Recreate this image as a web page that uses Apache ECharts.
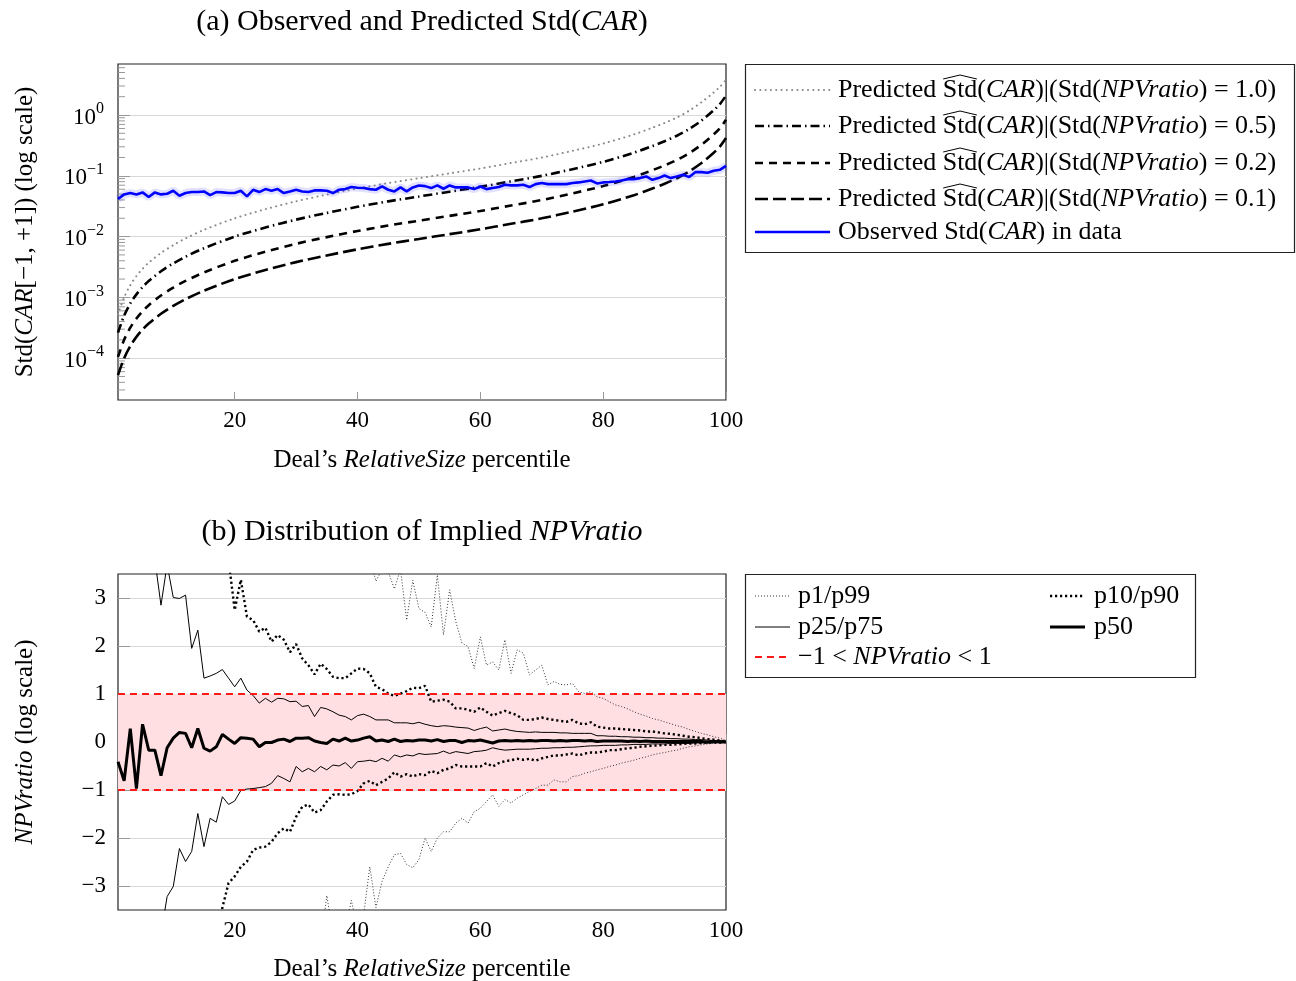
<!DOCTYPE html>
<html><head><meta charset="utf-8">
<script src="https://cdn.jsdelivr.net/npm/echarts@6.0.0/dist/echarts.min.js"></script>
<style>html,body{margin:0;padding:0;background:#fff}#c{width:1296px;height:981px}</style>
</head><body><div id="c"></div>
<script>
// ---------- DATA ----------
const pct = Array.from({length: 100}, (_, i) => i + 1);
const predX = [1,2,3,4,5,6,8,10,12,15,20,25,30,35,40,45,50,55,60,65,70,75,80,85,88,90,92,94,96,98,99,100];
const pred10 = [5.25e-4,1.0e-3,1.585e-3,2.24e-3,2.95e-3,3.72e-3,5.37e-3,7.24e-3,9.33e-3,0.01288,0.01995,0.02818,0.038,0.049,0.0617,0.0759,0.0912,0.1096,0.1318,0.1622,0.1995,0.257,0.339,0.479,0.617,0.741,0.912,1.175,1.62,2.35,2.9,3.8];
const pred05 = [2.63e-4,5.0e-4,7.93e-4,1.12e-3,1.475e-3,1.86e-3,2.685e-3,3.62e-3,4.665e-3,6.44e-3,9.975e-3,0.01409,0.019,0.0245,0.03085,0.03795,0.0456,0.0548,0.0659,0.0811,0.09975,0.1285,0.1695,0.2395,0.3085,0.3705,0.456,0.5875,0.81,1.2,1.51,2.085];
const pred02 = [1.05e-4,2.0e-4,3.17e-4,4.48e-4,5.9e-4,7.44e-4,1.074e-3,1.448e-3,1.866e-3,2.576e-3,3.99e-3,5.636e-3,7.6e-3,9.8e-3,0.01234,0.01518,0.01824,0.02192,0.02636,0.03244,0.0399,0.0514,0.0678,0.0958,0.1234,0.1482,0.1824,0.235,0.324,0.48,0.604,0.834];
const pred01 = [5.25e-5,1.0e-4,1.585e-4,2.24e-4,2.95e-4,3.72e-4,5.37e-4,7.24e-4,9.33e-4,1.288e-3,1.995e-3,2.818e-3,3.8e-3,4.9e-3,6.17e-3,7.59e-3,9.12e-3,0.01096,0.01318,0.01622,0.01995,0.0257,0.0339,0.0479,0.0617,0.0741,0.0912,0.1175,0.162,0.24,0.302,0.417];
const observed = [0.0415,0.0494,0.0520,0.0494,0.0533,0.0447,0.0533,0.0494,0.0507,0.0568,
  0.0470,0.0520,0.0540,0.0540,0.0553,0.0482,0.0540,0.0533,0.0520,0.0520,
  0.0568,0.0458,0.0589,0.0540,0.0604,0.0568,0.0604,0.0520,0.0553,0.0589,
  0.0553,0.0540,0.0575,0.0575,0.0568,0.0520,0.0589,0.0604,0.0652,0.0635,
  0.0628,0.0604,0.0589,0.0668,0.0589,0.0553,0.0644,0.0553,0.0644,0.0693,
  0.0676,0.0628,0.0695,0.0612,0.0695,0.0644,0.0644,0.0644,0.0604,0.0668,
  0.0604,0.0628,0.0652,0.0711,0.0695,0.0695,0.0711,0.0652,0.0729,0.0759,
  0.0729,0.0729,0.0729,0.0729,0.0759,0.0778,0.0807,0.0837,0.0748,0.0778,
  0.0790,0.0807,0.0837,0.0881,0.0881,0.0916,0.0975,0.0859,0.0916,0.1012,
  0.0916,0.0975,0.1038,0.0951,0.1148,0.1148,0.1119,0.1208,0.1253,0.146];
const topYTicks = [1e-4, 1e-3, 1e-2, 1e-1, 1];
const xTicks = [20, 40, 60, 80, 100];
const botYTicks = [-3, -2, -1, 0, 1, 2, 3];

const p50 = [-0.41,-0.81,0.28,-0.97,0.37,-0.17,-0.17,-0.70,-0.12,0.08,
  0.20,0.18,-0.12,0.28,-0.13,-0.19,-0.10,0.16,0.06,-0.03,
  0.09,0.08,0.06,-0.10,-0.01,-0.01,0.04,0.06,0.01,0.08,
  0.08,0.09,0.02,-0.01,-0.03,0.06,0.02,0.08,0.02,0.04,
  0.08,0.11,0.02,0.04,0.01,0.06,0.01,0.03,0.02,0.04,
  0.04,0.02,0.05,0.01,0.03,0.03,-0.01,0.03,0.02,0.04,
  0.01,-0.02,0.02,0.03,0.02,0.03,0.02,0.03,0.02,0.03,
  0.03,0.02,0.03,0.02,0.03,0.03,0.02,0.03,0.01,0.02,
  0.02,0.02,0.02,0.01,0.02,0.01,0.02,0.01,0.01,0.01,
  0.01,0.01,0.01,0.01,0.01,0.01,0.0,0.01,0.0,0.0];
const p75 = [5.0,5.0,5.0,5.0,5.0,4.6,3.8,2.85,3.7,3.01,
  2.99,3.06,1.95,2.33,1.33,1.375,1.43,1.51,1.33,1.15,
  1.33,1.08,0.97,0.81,0.91,0.83,0.91,0.90,0.84,0.85,
  0.74,0.76,0.53,0.72,0.69,0.63,0.56,0.53,0.46,0.55,
  0.58,0.53,0.46,0.46,0.46,0.40,0.40,0.40,0.38,0.41,
  0.37,0.34,0.32,0.34,0.33,0.31,0.30,0.29,0.24,0.28,
  0.31,0.23,0.25,0.27,0.24,0.22,0.21,0.20,0.21,0.20,
  0.20,0.20,0.19,0.19,0.18,0.18,0.18,0.18,0.13,0.13,
  0.12,0.12,0.11,0.11,0.10,0.10,0.09,0.09,0.08,0.08,
  0.07,0.07,0.06,0.06,0.05,0.05,0.04,0.03,0.03,0.02];
const p25 = [-5.0,-5.0,-5.0,-5.0,-5.0,-5.0,-4.6,-4.0,-3.22,-3.01,
  -2.22,-2.49,-2.28,-1.49,-2.18,-1.59,-1.67,-1.14,-1.30,-1.23,
  -1.01,-0.98,-0.97,-0.95,-0.93,-0.86,-0.70,-0.76,-0.83,-0.51,
  -0.62,-0.55,-0.62,-0.51,-0.58,-0.48,-0.50,-0.43,-0.55,-0.41,
  -0.40,-0.38,-0.41,-0.34,-0.40,-0.27,-0.31,-0.27,-0.29,-0.24,
  -0.26,-0.25,-0.24,-0.19,-0.24,-0.20,-0.22,-0.24,-0.20,-0.19,
  -0.17,-0.12,-0.15,-0.17,-0.16,-0.15,-0.15,-0.15,-0.14,-0.13,
  -0.13,-0.12,-0.12,-0.11,-0.11,-0.10,-0.09,-0.08,-0.08,-0.07,
  -0.07,-0.07,-0.06,-0.06,-0.05,-0.05,-0.05,-0.04,-0.04,-0.04,
  -0.03,-0.03,-0.03,-0.03,-0.02,-0.02,-0.02,-0.01,-0.01,0.0];
const p90 = [6,6,6,6,6,6,6,6,6,6,
  5.5,5.5,5.0,5.0,4.8,4.6,4.4,4.2,3.8,2.75,
  3.38,2.61,2.54,2.30,2.38,2.09,2.23,2.13,1.87,2.04,
  1.74,1.60,1.41,1.63,1.52,1.36,1.33,1.33,1.43,1.53,
  1.52,1.43,1.15,1.10,1.01,0.96,1.01,1.06,1.13,1.12,
  1.17,0.84,0.86,0.88,0.84,0.70,0.70,0.67,0.63,0.72,
  0.63,0.55,0.60,0.65,0.60,0.56,0.46,0.46,0.48,0.51,
  0.48,0.46,0.44,0.42,0.46,0.39,0.37,0.41,0.32,0.30,
  0.28,0.28,0.27,0.26,0.25,0.24,0.22,0.22,0.20,0.18,
  0.17,0.15,0.13,0.11,0.10,0.08,0.06,0.05,0.03,0.01];
const p10 = [-6,-6,-6,-6,-6,-6,-6,-6,-6,-6,
  -5.5,-5.5,-5.0,-5.0,-4.8,-4.6,-4.2,-3.45,-2.94,-2.80,
  -2.60,-2.49,-2.25,-2.20,-2.18,-2.08,-1.90,-1.80,-1.87,-1.56,
  -1.35,-1.30,-1.47,-1.42,-1.24,-1.10,-1.09,-1.10,-1.09,-1.02,
  -0.86,-0.81,-0.90,-0.83,-0.76,-0.63,-0.72,-0.67,-0.72,-0.67,
  -0.69,-0.60,-0.65,-0.58,-0.55,-0.48,-0.51,-0.51,-0.51,-0.51,
  -0.44,-0.51,-0.44,-0.40,-0.38,-0.35,-0.37,-0.35,-0.39,-0.34,
  -0.31,-0.28,-0.28,-0.26,-0.24,-0.28,-0.24,-0.22,-0.22,-0.20,
  -0.17,-0.17,-0.15,-0.13,-0.12,-0.10,-0.09,-0.08,-0.07,-0.06,
  -0.06,-0.05,-0.04,-0.03,-0.03,-0.02,-0.01,-0.01,-0.01,0.0];
const p99 = [6,6,6,6,6,6,6,6,6,6,
  6,6,6,6,6,6,6,6,6,6,
  6,6,6,6,6,6,6,6,6,6,
  5.5,5.4,5.2,5.0,4.9,4.8,4.6,4.5,4.3,4.1,
  3.9,3.8,3.35,3.6,3.55,3.19,3.6,2.54,3.37,2.78,
  2.70,2.40,3.48,2.23,3.17,2.51,2.06,1.99,1.53,2.19,
  1.60,1.67,1.50,2.13,1.43,1.92,1.85,1.40,1.50,1.60,
  1.19,1.26,1.20,1.19,1.22,1.05,1.01,1.05,0.94,0.91,
  0.84,0.77,0.74,0.69,0.63,0.58,0.54,0.49,0.46,0.42,
  0.38,0.34,0.31,0.26,0.22,0.18,0.15,0.11,0.08,0.03];
const p01 = [-6,-6,-6,-6,-6,-6,-6,-6,-6,-6,
  -6,-6,-6,-6,-6,-6,-6,-6,-6,-6,
  -6,-6,-6,-6,-6,-6,-6,-6,-6,-6,
  -5.5,-5.0,-4.6,-4.2,-3.2,-4.0,-4.2,-3.9,-3.3,-3.9,
  -3.6,-2.6,-3.45,-2.9,-2.6,-2.35,-2.32,-2.55,-2.62,-2.45,
  -2.0,-2.28,-2.0,-1.87,-1.87,-1.69,-1.59,-1.69,-1.45,-1.38,
  -1.24,-1.10,-1.34,-1.20,-1.27,-1.17,-1.10,-1.03,-0.97,-0.90,
  -0.90,-0.79,-0.83,-0.83,-0.72,-0.70,-0.65,-0.62,-0.58,-0.55,
  -0.51,-0.48,-0.44,-0.41,-0.38,-0.34,-0.31,-0.27,-0.24,-0.22,
  -0.19,-0.17,-0.13,-0.10,-0.08,-0.06,-0.04,-0.03,-0.01,0.0];

// ---------- STYLE ----------
const F = '"Liberation Serif", "Times New Roman", serif';
const S = {
  pred10: {color: '#888', width: 2, type: [0.1, 5.2], cap: 'round'},
  pred05: {color: '#000', width: 2.6, type: [9, 4, 1.5, 4], cap: 'butt'},
  pred02: {color: '#000', width: 2.6, type: [8, 6], cap: 'butt'},
  pred01: {color: '#000', width: 2.6, type: [13, 5], cap: 'butt'},
  obs: {color: '#0000ff', width: 2.6, type: 'solid'},
  p1: {color: '#333', width: 1, type: [1, 2]},
  p10: {color: '#000', width: 2.4, type: [2.2, 2.8]},
  p25: {color: '#000', width: 1, type: 'solid'},
  p50: {color: '#000', width: 3, type: 'solid'},
  red: {color: '#ff1a1a', width: 1.8, type: [7, 5]}
};

const chart = echarts.init(document.getElementById('c'));
const pair = (xs, ys) => xs.map((x, i) => [x, ys[i]]);
const line = (name, xi, data, st, extra) => Object.assign({
  name, type: 'line', xAxisIndex: xi, yAxisIndex: xi, data, symbol: 'none', silent: true,
  animation: false, lineStyle: {color: st.color, width: st.width, type: st.type, cap: st.cap || 'butt'}
}, extra || {});

const minorVals = [];
for (let e = -5; e <= 0; e++) for (let m = 2; m <= 9; m++) {
  const v = m * Math.pow(10, e);
  if (v > 2.05e-5 && v < 6.9) minorVals.push([1, v]);
}

const supMap = e => (e < 0 ? '−' + (-e) : String(e));
const tickLbl = {fontFamily: F, fontSize: 23, color: '#000'};
const smoothOpt = {smooth: 0.3};

const option = {
  animation: false,
  backgroundColor: '#fff',
  grid: [
    {left: 118, top: 64, width: 608, height: 336, show: true, borderColor: '#222', borderWidth: 1.2, backgroundColor: 'transparent'},
    {left: 118, top: 574, width: 608, height: 336, show: true, borderColor: '#222', borderWidth: 1.2, backgroundColor: 'transparent'}
  ],
  xAxis: [0, 1].map(g => ({
    type: 'value', gridIndex: g, min: 1, max: 100,
    axisLine: {show: false},
    axisTick: {show: true, inside: true, length: 8, lineStyle: {color: '#999'}, customValues: xTicks},
    axisLabel: Object.assign({margin: 9, customValues: xTicks}, tickLbl),
    splitLine: {show: false}
  })),
  yAxis: [
    {type: 'log', logBase: 10, gridIndex: 0, min: 2.05e-5, max: 6.9,
     axisLine: {show: false},
     axisTick: {show: true, inside: true, length: 12, lineStyle: {color: '#999'}, customValues: topYTicks},
     splitLine: {show: true, lineStyle: {color: '#d9d9d9', width: 1}},
     axisLabel: {margin: 14, customValues: topYTicks,
       formatter: v => '{b|10}{s|' + supMap(Math.round(Math.log10(v))) + '}',
       rich: {b: {fontFamily: F, fontSize: 23, color: '#000', lineHeight: 28, verticalAlign: 'bottom'},
              s: {fontFamily: F, fontSize: 16, color: '#000', lineHeight: 14, verticalAlign: 'top'}}}
    },
    {type: 'value', gridIndex: 1, min: -3.5, max: 3.5,
     axisLine: {show: false},
     axisTick: {show: true, inside: true, length: 12, lineStyle: {color: '#999'}, customValues: botYTicks},
     splitLine: {show: true, lineStyle: {color: '#d9d9d9', width: 1}},
     axisLabel: Object.assign({margin: 12, customValues: botYTicks, formatter: v => String(v).replace('-', '−')}, tickLbl)
    }
  ],
  series: [
    {type: 'custom', xAxisIndex: 0, yAxisIndex: 0, data: minorVals, silent: true, animation: false,
     renderItem: (p, api) => {
       const pt = api.coord([api.value(0), api.value(1)]);
       return {type: 'line', shape: {x1: pt[0], y1: pt[1], x2: pt[0] + 7, y2: pt[1]}, style: {stroke: '#999', lineWidth: 1}};
     }},
    line('pred10', 0, pair(predX, pred10), S.pred10, smoothOpt),
    line('pred05', 0, pair(predX, pred05), S.pred05, smoothOpt),
    line('pred02', 0, pair(predX, pred02), S.pred02, smoothOpt),
    line('pred01', 0, pair(predX, pred01), S.pred01, smoothOpt),
    line('obsBand', 0, pair(pct, observed), {color: 'rgba(70,70,255,0.16)', width: 8, type: 'solid'}),
    line('observed', 0, pair(pct, observed), S.obs),
    line('band', 1, [], S.p25, {
      markArea: {silent: true, itemStyle: {color: '#ffdfe1'}, data: [[{yAxis: -1}, {yAxis: 1}]]},
      markLine: {silent: true, symbol: 'none', label: {show: false}, animation: false,
        lineStyle: {color: S.red.color, width: S.red.width, type: S.red.type}, data: [{yAxis: -1}, {yAxis: 1}]}
    }),
    line('p1', 1, pair(pct, p01), S.p1),
    line('p99', 1, pair(pct, p99), S.p1),
    line('p10', 1, pair(pct, p10), S.p10),
    line('p90', 1, pair(pct, p90), S.p10),
    line('p25', 1, pair(pct, p25), S.p25),
    line('p75', 1, pair(pct, p75), S.p25),
    line('p50', 1, pair(pct, p50), S.p50)
  ],
  graphic: []
};

// ---------- TEXT / LEGENDS ----------
const G = [];
const italic = size => ({fontFamily: F, fontSize: size, fontStyle: 'italic', fill: '#000'});
function text(x, y, str, size, opt) {
  opt = opt || {};
  G.push({type: 'text', x, y, rotation: opt.rot || 0, silent: true, z: 100,
    style: {text: str, fontFamily: F, fontSize: size, fill: '#000', align: opt.align || 'center', verticalAlign: 'middle',
      rich: {i: italic(size), n: {fontFamily: F, fontSize: size, fill: '#000'}}}});
}
text(422, 22, '(a) Observed and Predicted Std({i|CAR})', 30);
text(422, 532, '(b) Distribution of Implied {i|NPVratio}', 30);
text(422, 460, 'Deal’s {i|RelativeSize} percentile', 25);
text(422, 969, 'Deal’s {i|RelativeSize} percentile', 25);
text(25, 232, 'Std({i|CAR}[−1, +1]) (log scale)', 25, {rot: Math.PI / 2});
text(25, 742, '{i|NPVratio} (log scale)', 25, {rot: Math.PI / 2});

const ctx = document.createElement('canvas').getContext('2d');
const LF = 26;
ctx.font = LF + 'px "Liberation Serif"';
const wPred = ctx.measureText('Predicted ').width;
const wStd = ctx.measureText('Std').width;

function sample(x1, x2, y, st) {
  G.push({type: 'line', silent: true, z: 100, shape: {x1, y1: y, x2, y2: y},
    style: {stroke: st.color, lineWidth: st.width, lineDash: Array.isArray(st.type) ? st.type : null, lineCap: st.cap || 'butt'}});
}
// legend 1
G.push({type: 'rect', silent: true, z: 99, shape: {x: 745.5, y: 64.5, width: 549, height: 188}, style: {fill: '#fff', stroke: '#222', lineWidth: 1.2}});
const leg1 = [['pred10', '1.0'], ['pred05', '0.5'], ['pred02', '0.2'], ['pred01', '0.1']];
const rows1 = [90, 126, 163, 199, 232];
leg1.forEach((d, k) => {
  const y = rows1[k];
  sample(755, 830, y, S[d[0]]);
  text(838, y, 'Predicted Std({i|CAR})|(Std({i|NPVratio}) = ' + d[1] + ')', LF, {align: 'left'});
  const hx = 838 + wPred;
  G.push({type: 'polyline', silent: true, z: 100,
    shape: {points: [[hx + 0.5, y - 11], [hx + wStd / 2, y - 15], [hx + wStd - 0.5, y - 11]]},
    style: {stroke: '#000', lineWidth: 1, fill: null}});
});
sample(755, 830, rows1[4], S.obs);
text(838, rows1[4], 'Observed Std({i|CAR}) in data', LF, {align: 'left'});

// legend 2
G.push({type: 'rect', silent: true, z: 99, shape: {x: 745.5, y: 574.5, width: 450, height: 103}, style: {fill: '#fff', stroke: '#222', lineWidth: 1.2}});
const rows2 = [596, 627, 657];
sample(755, 790, rows2[0], S.p1); text(798, rows2[0], 'p1/p99', LF, {align: 'left'});
sample(1050, 1085, rows2[0], S.p10); text(1094, rows2[0], 'p10/p90', LF, {align: 'left'});
sample(755, 790, rows2[1], S.p25); text(798, rows2[1], 'p25/p75', LF, {align: 'left'});
sample(1050, 1085, rows2[1], S.p50); text(1094, rows2[1], 'p50', LF, {align: 'left'});
sample(755, 790, rows2[2], S.red); text(798, rows2[2], '−1 < {i|NPVratio} < 1', LF, {align: 'left'});

option.graphic = G;
chart.setOption(option);
</script>
</body></html>
